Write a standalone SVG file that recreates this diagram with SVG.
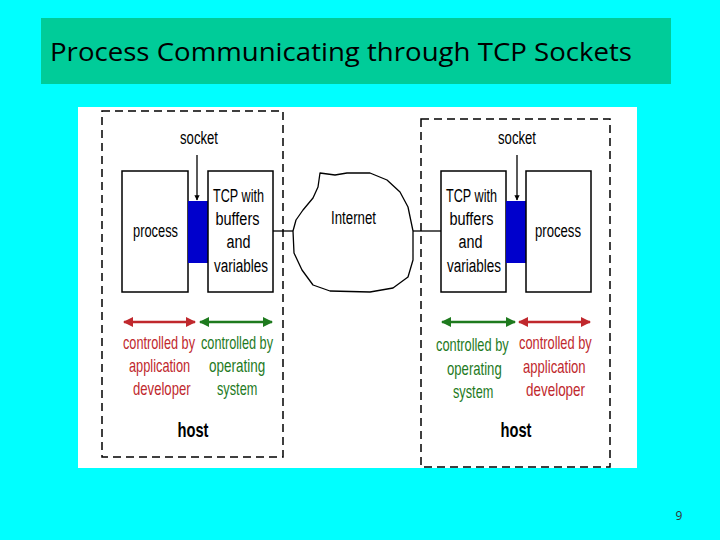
<svg xmlns="http://www.w3.org/2000/svg" width="720" height="540" viewBox="0 0 720 540">
<defs>
<style>
.t{font-family:"Liberation Sans",Arial,sans-serif;fill:#000}
.box{fill:#fff;stroke:#000;stroke-width:1.5}
.sock{fill:#0000CC;stroke:none}
.dash{fill:none;stroke:#000;stroke-width:1.5;stroke-dasharray:8 5}
.red{fill:#C0282D}
.grn{fill:#1E7A1E}
.lred{stroke:#C0282D;stroke-width:2.5;fill:none}
.lgrn{stroke:#1E7A1E;stroke-width:2.5;fill:none}
</style>
<marker id="ar" viewBox="0 0 10 10" refX="9" refY="5" markerWidth="4" markerHeight="4" orient="auto-start-reverse"><path d="M0,0 L10,5 L0,10 Z" fill="#C0282D"/></marker>
<marker id="ag" viewBox="0 0 10 10" refX="9" refY="5" markerWidth="4" markerHeight="4" orient="auto-start-reverse"><path d="M0,0 L10,5 L0,10 Z" fill="#1E7A1E"/></marker>
<marker id="ak" viewBox="0 0 10 10" refX="9" refY="5" markerWidth="4" markerHeight="4" orient="auto"><path d="M0,0 L10,5 L0,10 Z" fill="#000"/></marker>
</defs>
<rect x="0" y="0" width="720" height="540" fill="#00FFFF"/>
<g id="title">
<rect x="41" y="18" width="630" height="66" fill="#00CC99"/>
<text x="50" y="61" font-family="'Open Sans','Noto Sans',sans-serif" font-size="25" textLength="582" lengthAdjust="spacingAndGlyphs" fill="#000">Process Communicating through TCP Sockets</text>
</g>
<rect x="78" y="107" width="559" height="361" fill="#fff"/>
<g id="host-left">
<rect class="dash" x="102" y="111" width="181" height="346"/>
<text class="t" x="193" y="437" font-size="21" font-weight="bold" text-anchor="middle" textLength="31" lengthAdjust="spacingAndGlyphs">host</text>
</g>
<g id="host-right">
<rect class="dash" x="421" y="119" width="189" height="348"/>
<text class="t" x="516" y="437" font-size="21" font-weight="bold" text-anchor="middle" textLength="31" lengthAdjust="spacingAndGlyphs">host</text>
</g>
<g id="process-left">
<rect class="box" x="122" y="171" width="66" height="121"/>
<text class="t" x="133" y="237" font-size="18" textLength="45" lengthAdjust="spacingAndGlyphs">process</text>
</g>
<g id="socket-left">
<rect class="sock" x="188" y="201" width="20" height="62"/>
<text class="t" x="180" y="144" font-size="18" textLength="38" lengthAdjust="spacingAndGlyphs">socket</text>
</g>
<g id="tcp-left">
<rect class="box" x="208" y="171" width="65" height="121"/>
<text class="t" font-size="18" text-anchor="middle">
<tspan x="241" y="202" textLength="51" lengthAdjust="spacingAndGlyphs">TCP with</tspan>
<tspan x="240" y="225" textLength="44" lengthAdjust="spacingAndGlyphs">buffers</tspan>
<tspan x="241" y="248" textLength="24" lengthAdjust="spacingAndGlyphs">and</tspan>
<tspan x="241" y="272" textLength="54" lengthAdjust="spacingAndGlyphs">variables</tspan>
</text>
</g>
<g id="internet">
<path d="M320,173 L335,175 L347,173 L370,173 L387,180 L400,192 L408,207 L413,231 L413,260 L408,277 L393,288 L370,292 L330,291 L313,285 L302,270 L294,253 L293,231 L296,220 L303,210 L313,198 L318,187 Z" fill="#fff" stroke="#000" stroke-width="1.3" stroke-linejoin="round"/>
<text class="t" x="331" y="224" font-size="18" textLength="45" lengthAdjust="spacingAndGlyphs">Internet</text>
</g>
<g id="tcp-right">
<rect class="box" x="441" y="171" width="65" height="121"/>
<text class="t" font-size="18" text-anchor="middle">
<tspan x="474" y="202" textLength="51" lengthAdjust="spacingAndGlyphs">TCP with</tspan>
<tspan x="474" y="225" textLength="44" lengthAdjust="spacingAndGlyphs">buffers</tspan>
<tspan x="473" y="248" textLength="24" lengthAdjust="spacingAndGlyphs">and</tspan>
<tspan x="474" y="272" textLength="54" lengthAdjust="spacingAndGlyphs">variables</tspan>
</text>
</g>
<g id="socket-right">
<rect class="sock" x="506" y="201" width="20" height="62"/>
<text class="t" x="498" y="144" font-size="18" textLength="38" lengthAdjust="spacingAndGlyphs">socket</text>
</g>
<g id="process-right">
<rect class="box" x="526" y="171" width="65" height="121"/>
<text class="t" x="535" y="237" font-size="18" textLength="46" lengthAdjust="spacingAndGlyphs">process</text>
</g>
<g id="labels-left">
<g transform="translate(123,349) scale(0.72,1)"><text class="t red" font-size="18" textLength="100" lengthAdjust="spacingAndGlyphs">controlled by</text></g>
<g transform="translate(129,372) scale(0.72,1)"><text class="t red" font-size="18" textLength="85" lengthAdjust="spacingAndGlyphs">application</text></g>
<g transform="translate(133,395) scale(0.72,1)"><text class="t red" font-size="18" textLength="80" lengthAdjust="spacingAndGlyphs">developer</text></g>
<g transform="translate(201,349) scale(0.72,1)"><text class="t grn" font-size="18" textLength="100" lengthAdjust="spacingAndGlyphs">controlled by</text></g>
<g transform="translate(209,372) scale(0.72,1)"><text class="t grn" font-size="18" textLength="78" lengthAdjust="spacingAndGlyphs">operating</text></g>
<g transform="translate(217,395) scale(0.72,1)"><text class="t grn" font-size="18" textLength="56" lengthAdjust="spacingAndGlyphs">system</text></g>
</g>
<g id="labels-right">
<g transform="translate(436,351) scale(0.72,1)"><text class="t grn" font-size="18" textLength="101" lengthAdjust="spacingAndGlyphs">controlled by</text></g>
<g transform="translate(447,375) scale(0.72,1)"><text class="t grn" font-size="18" textLength="76" lengthAdjust="spacingAndGlyphs">operating</text></g>
<g transform="translate(453,398) scale(0.72,1)"><text class="t grn" font-size="18" textLength="56" lengthAdjust="spacingAndGlyphs">system</text></g>
<g transform="translate(519,349) scale(0.72,1)"><text class="t red" font-size="18" textLength="101" lengthAdjust="spacingAndGlyphs">controlled by</text></g>
<g transform="translate(523,373) scale(0.72,1)"><text class="t red" font-size="18" textLength="87" lengthAdjust="spacingAndGlyphs">application</text></g>
<g transform="translate(526,396) scale(0.72,1)"><text class="t red" font-size="18" textLength="82" lengthAdjust="spacingAndGlyphs">developer</text></g>
</g>
<g id="connectors">
<line x1="197" y1="155" x2="197" y2="200" stroke="#000" stroke-width="1.3" marker-end="url(#ak)"/>
<line x1="517" y1="155" x2="517" y2="200" stroke="#000" stroke-width="1.3" marker-end="url(#ak)"/>
<line x1="273" y1="231" x2="293" y2="231" stroke="#000" stroke-width="1.3"/>
<line x1="413" y1="231" x2="441" y2="231" stroke="#000" stroke-width="1.3"/>
<line class="lred" x1="124" y1="322" x2="195" y2="322" marker-start="url(#ar)" marker-end="url(#ar)"/>
<line class="lgrn" x1="200" y1="322" x2="272" y2="322" marker-start="url(#ag)" marker-end="url(#ag)"/>
<line class="lgrn" x1="442" y1="322" x2="515" y2="322" marker-start="url(#ag)" marker-end="url(#ag)"/>
<line class="lred" x1="519" y1="322" x2="590" y2="322" marker-start="url(#ar)" marker-end="url(#ar)"/>
</g>
<text x="679" y="520" font-family="'Open Sans','Noto Sans',sans-serif" font-size="12" fill="#333" text-anchor="middle">9</text>
</svg>
